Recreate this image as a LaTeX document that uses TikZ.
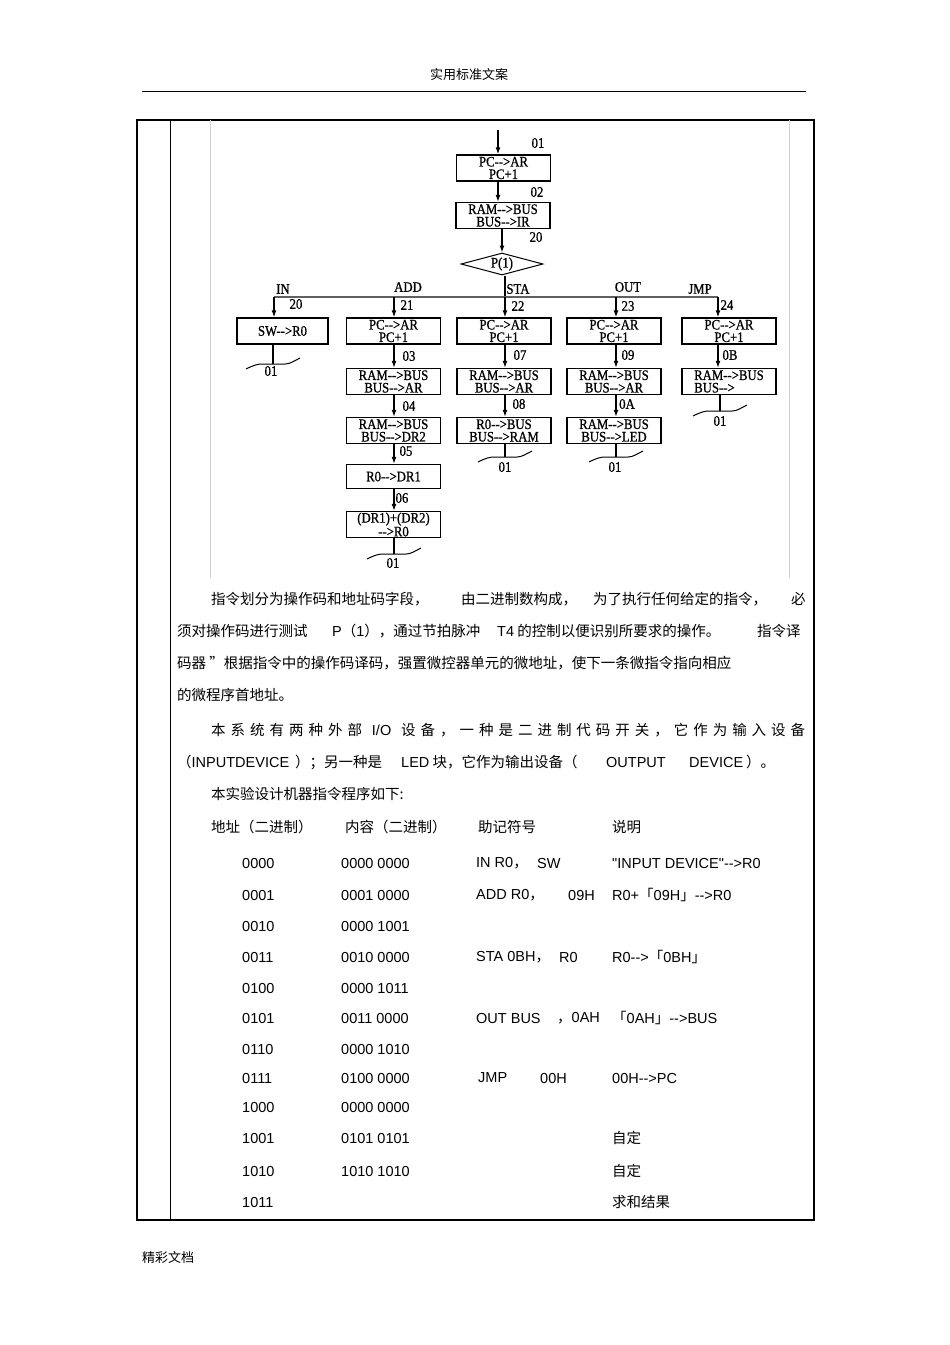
\documentclass[tikz,border=0pt]{standalone}
\usepackage{fontspec}
\setmainfont{Liberation Sans}[Ligatures=TeXOff]
\newfontfamily\cjkf{Noto Sans CJK SC}
\newfontfamily\fcser{Liberation Serif}[FakeStretch=0.88,FakeBold=0.8]
\usetikzlibrary{arrows.meta,shapes.geometric}
\begin{document}
\begin{tikzpicture}[x=1pt,y=-1pt,
  fbox/.style={draw=black,line width=1.3pt,minimum width=94pt,minimum height=26pt,inner sep=0pt,align=center,font=\fcser\fontsize{14.5}{12.5}\selectfont},
  flab/.style={inner sep=0pt,font=\fcser\fontsize{14.5}{14}\selectfont},
  farr/.style={line width=1.3pt,-{Latex[length=7pt,width=5pt]}},
  fline/.style={line width=1.3pt},
  ctxt/.style={anchor=west,inner sep=0pt,font=\cjkf\fontsize{14.5}{16}\selectfont},
  ltxt/.style={anchor=west,inner sep=0pt,font=\rmfamily\fontsize{14.5}{16}\selectfont},
  endmark/.pic={\draw[line width=1pt] (-27,5) .. controls (-19,1) and (-15,0) .. (-11,0) -- (12,0) .. controls (17,0) and (21,-3) .. (27,-6);}
]
\useasboundingbox[fill=white] (0,0) rectangle (950,1345);

% header / footer
\node[ctxt,anchor=center,font=\cjkf\fontsize{13}{15}\selectfont] (hdr) at (469,75) {实用标准文案};
\draw[line width=1pt] (142,91) -- (806,91);
\node[ctxt,font=\cjkf\fontsize{13}{15}\selectfont] (ftr) at (142,1257) {精彩文档};

% frame
\draw[line width=1.2pt] (137,120) rectangle (814,1220);
\draw[line width=1pt] (170,120) -- (170,1220);
\draw[gray!35,line width=0.6pt] (210,120) -- (210,578);
\draw[gray!35,line width=0.6pt] (789,120) -- (789,578);

% ---------- flowchart ----------
\coordinate (top) at (498,130);
\coordinate (cx0) at (498,0);
\coordinate (cIN) at (274,0);
\coordinate (cADD) at (394,0);
\coordinate (cSTA) at (505,0);
\coordinate (cOUT) at (616,0);
\coordinate (cJMP) at (718,0);
\coordinate (busL) at (274,297);
\coordinate (busR) at (718,297);

\node[fbox] (b1) at (503.5,168) {PC-->AR\\PC+1};
\node[fbox] (b2) at (503,215.5) {RAM-->BUS\\BUS-->IR};
\node[diamond,draw,line width=1pt,minimum width=82pt,minimum height=22pt,inner sep=0pt,aspect=3.7,flab] (dm) at (502,264) {P(1)};

\draw[farr] (top) -- (b1.north -| cx0);
\draw[farr] (b1.south -| cx0) -- (b2.north -| cx0);
\draw[farr] (b2.south -| dm.north) -- (dm.north);
\draw[fline] (dm.south -| cSTA) -- (busL -| cSTA);
\draw[line width=1.5pt,gray!75!black] (busL) -- (busR);

\node[flab] (l01) at (538,143) {01};
\node[flab] (l02) at (537,192) {02};
\node[flab] (l20) at (536,237) {20};
\node[flab] (lSTA) at (518,289) {STA};
\node[flab] (lIN) at (283,289) {IN};
\node[flab] (lADD) at (408,287) {ADD};
\node[flab] (lOUT) at (628,287) {OUT};
\node[flab] (lJMP) at (700,289) {JMP};

% IN
\node[fbox,minimum width=91pt] (in1) at (282.5,331) {SW-->R0};
\draw[farr] (busL -| cIN) -- (in1.north -| cIN);
\node[flab] (n20) at (296,304) {20};
\coordinate (eIN) at (273,364);
\draw[fline] (in1.south -| eIN) -- (eIN);
\pic at (eIN) {endmark};
\node[flab] (e1) at (271,371) {01};

% ADD
\node[fbox] (a1) at (393.5,331) {PC-->AR\\PC+1};
\node[fbox] (a2) at (393.5,381.5) {RAM-->BUS\\BUS-->AR};
\node[fbox] (a3) at (393.5,430.5) {RAM-->BUS\\BUS-->DR2};
\node[fbox,minimum height=24pt] (a4) at (393.5,476.5) {R0-->DR1};
\node[fbox] (a5) at (393.5,524.5) {(DR1)+(DR2)\\-->R0};
\draw[farr] (busL -| cADD) -- (a1.north -| cADD);
\draw[farr] (a1.south -| cADD) -- (a2.north -| cADD);
\draw[farr] (a2.south -| cADD) -- (a3.north -| cADD);
\draw[farr] (a3.south -| cADD) -- (a4.north -| cADD);
\draw[farr] (a4.south -| cADD) -- (a5.north -| cADD);
\node[flab] (n21) at (407,305) {21};
\node[flab] (n03) at (409,356) {03};
\node[flab] (n04) at (409,406) {04};
\node[flab] (n05) at (406,451) {05};
\node[flab] (n06) at (402,498) {06};
\coordinate (eADD) at (394,554);
\draw[fline] (a5.south -| eADD) -- (eADD);
\pic at (eADD) {endmark};
\node[flab] (e2) at (393,563) {01};

% STA
\node[fbox] (s1) at (504,331) {PC-->AR\\PC+1};
\node[fbox] (s2) at (504,381.5) {RAM-->BUS\\BUS-->AR};
\node[fbox] (s3) at (504,430.5) {R0-->BUS\\BUS-->RAM};
\draw[farr] (busL -| cSTA) -- (s1.north -| cSTA);
\draw[farr] (s1.south -| cSTA) -- (s2.north -| cSTA);
\draw[farr] (s2.south -| cSTA) -- (s3.north -| cSTA);
\node[flab] (n22) at (518,306) {22};
\node[flab] (n07) at (520,355) {07};
\node[flab] (n08) at (519,404) {08};
\coordinate (eSTA) at (505,457);
\draw[fline] (s3.south -| eSTA) -- (eSTA);
\pic at (eSTA) {endmark};
\node[flab] (e3) at (505,467) {01};

% OUT
\node[fbox] (o1) at (614,331) {PC-->AR\\PC+1};
\node[fbox] (o2) at (614,381.5) {RAM-->BUS\\BUS-->AR};
\node[fbox] (o3) at (614,430.5) {RAM-->BUS\\BUS-->LED};
\draw[farr] (busL -| cOUT) -- (o1.north -| cOUT);
\draw[farr] (o1.south -| cOUT) -- (o2.north -| cOUT);
\draw[farr] (o2.south -| cOUT) -- (o3.north -| cOUT);
\node[flab] (n23) at (628,306) {23};
\node[flab] (n09) at (628,355) {09};
\node[flab] (n0A) at (627,404) {0A};
\coordinate (eOUT) at (616,457);
\draw[fline] (o3.south -| eOUT) -- (eOUT);
\pic at (eOUT) {endmark};
\node[flab] (e4) at (615,467) {01};

% JMP
\node[fbox] (j1) at (729,331) {PC-->AR\\PC+1};
\node[fbox,align=left] (j2) at (729,381.5) {RAM-->BUS\\BUS-->};
\draw[farr] (busR) -- (j1.north -| cJMP);
\draw[farr] (j1.south -| cJMP) -- (j2.north -| cJMP);
\node[flab] (n24) at (727,305) {24};
\node[flab] (n0B) at (730,355) {0B};
\coordinate (eJMP) at (720,411);
\draw[fline] (j2.south -| eJMP) -- (eJMP);
\pic at (eJMP) {endmark};
\node[flab] (e5) at (720,421) {01};

% ---------- text ----------
\node[ctxt] (p1a) at (211,599) {指令划分为操作码和地址码字段，};
\node[ctxt] (p1b) at (461,599) {由二进制数构成，};
\node[ctxt] (p1c) at (593,599) {为了执行任何给定的指令，};
\node[ctxt] (p1d) at (791,599) {必};
\node[ctxt] (p2a) at (177,631) {须对操作码进行测试};
\node[ctxt] (p2b) at (332,631) {{\rmfamily P}（{\rmfamily 1}），通过节拍脉冲};
\node[ctxt] (p2c) at (497,631) {{\rmfamily T4} 的控制以便识别所要求的操作。};
\node[ctxt] (p2d) at (757,631) {指令译};
\node[ctxt] (p3) at (177,663) {码器 ”根据指令中的操作码译码，强置微控器单元的微地址，使下一条微指令指向相应};
\node[ctxt] (p4) at (177,695) {的微程序首地址。};
\node[ctxt] (p5) at (211,730) {\makebox[594pt][s]{本\hfill 系\hfill 统\hfill 有\hfill 两\hfill 种\hfill 外\hfill 部\hfill\hfill {\rmfamily I/O}\hfill\hfill 设\hfill 备\hfill ，\hfill 一\hfill 种\hfill 是\hfill 二\hfill 进\hfill 制\hfill 代\hfill 码\hfill 开\hfill 关\hfill ，\hfill 它\hfill 作\hfill 为\hfill 输\hfill 入\hfill 设\hfill 备}};
\node[ctxt] (p6a) at (177,762) {（{\rmfamily INPUTDEVICE}};
\node[ctxt] (p6b) at (295,762) {）；另一种是};
\node[ctxt] (p6c) at (401,762) {{\rmfamily LED} 块，它作为输出设备（};
\node[ltxt] (p6d) at (606,762) {OUTPUT};
\node[ltxt] (p6e) at (689,762) {DEVICE};
\node[ctxt] (p6f) at (746,762) {）。};
\node[ctxt] (p7) at (211,794) {本实验设计机器指令程序如下:};

\node[ctxt] (h1) at (211,827) {地址（二进制）};
\node[ctxt] (h2) at (345,827) {内容（二进制）};
\node[ctxt] (h3) at (478,827) {助记符号};
\node[ctxt] (h4) at (612,827) {说明};

% rows
\node[ltxt] (r1a) at (242,863) {0000};
\node[ltxt] (r1b) at (341,863) {0000 0000};
\node[ltxt] (r1c) at (476,863) {IN R0{\cjkf ，}};
\node[ltxt] (r1d) at (537,863) {SW};
\node[ltxt] (r1e) at (612,863) {"INPUT DEVICE"-->R0};

\node[ltxt] (r2a) at (242,895) {0001};
\node[ltxt] (r2b) at (341,895) {0001 0000};
\node[ltxt] (r2c) at (476,895) {ADD R0{\cjkf ，}};
\node[ltxt] (r2d) at (568,895) {09H};
\node[ltxt] (r2e) at (612,895) {R0+{\cjkf 「}09H{\cjkf 」}-->R0};

\node[ltxt] (r3a) at (242,926) {0010};
\node[ltxt] (r3b) at (341,926) {0000 1001};

\node[ltxt] (r4a) at (242,957) {0011};
\node[ltxt] (r4b) at (341,957) {0010 0000};
\node[ltxt] (r4c) at (476,957) {STA 0BH{\cjkf ，}};
\node[ltxt] (r4d) at (559,957) {R0};
\node[ltxt] (r4e) at (612,957) {R0-->{\cjkf 「}0BH{\cjkf 」}};

\node[ltxt] (r5a) at (242,988) {0100};
\node[ltxt] (r5b) at (341,988) {0000 1011};

\node[ltxt] (r6a) at (242,1018) {0101};
\node[ltxt] (r6b) at (341,1018) {0011 0000};
\node[ltxt] (r6c) at (476,1018) {OUT BUS};
\node[ltxt] (r6d) at (557,1018) {{\cjkf ，}0AH};
\node[ltxt] (r6e) at (612,1018) {{\cjkf 「}0AH{\cjkf 」}-->BUS};

\node[ltxt] (r7a) at (242,1049) {0110};
\node[ltxt] (r7b) at (341,1049) {0000 1010};

\node[ltxt] (r8a) at (242,1078) {0111};
\node[ltxt] (r8b) at (341,1078) {0100 0000};
\node[ltxt] (r8c) at (478,1078) {JMP};
\node[ltxt] (r8d) at (540,1078) {00H};
\node[ltxt] (r8e) at (612,1078) {00H-->PC};

\node[ltxt] (r9a) at (242,1107) {1000};
\node[ltxt] (r9b) at (341,1107) {0000 0000};

\node[ltxt] (r10a) at (242,1138) {1001};
\node[ltxt] (r10b) at (341,1138) {0101 0101};
\node[ctxt] (r10e) at (612,1138) {自定};

\node[ltxt] (r11a) at (242,1171) {1010};
\node[ltxt] (r11b) at (341,1171) {1010 1010};
\node[ctxt] (r11e) at (612,1171) {自定};

\node[ltxt] (r12a) at (242,1202) {1011};
\node[ctxt] (r12e) at (612,1202) {求和结果};
\end{tikzpicture}
\end{document}
